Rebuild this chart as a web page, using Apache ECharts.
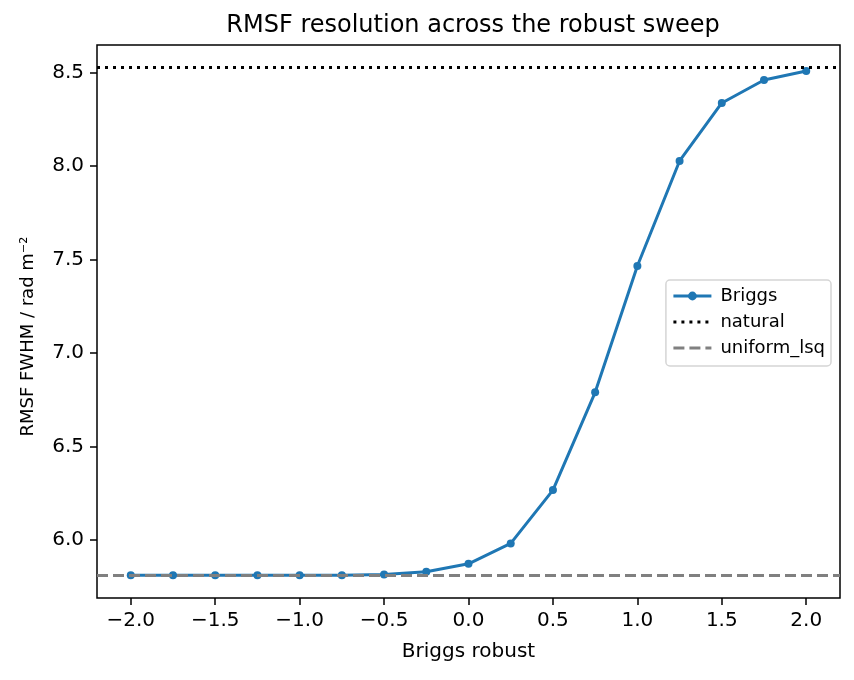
<!DOCTYPE html>
<html>
<head>
<meta charset="utf-8">
<script src="https://cdn.jsdelivr.net/npm/echarts@6/dist/echarts.min.js"></script>
<style>
  html, body { margin: 0; padding: 0; background: #fff; }
  #main { width: 854px; height: 680px; }
</style>
</head>
<body>
<div id="main"></div>
<script>
// briggs robust values and measured RMSF FWHM
const robust = [-2.0, -1.75, -1.5, -1.25, -1.0, -0.75, -0.5, -0.25, 0.0, 0.25, 0.5, 0.75, 1.0, 1.25, 1.5, 1.75, 2.0];
const fwhm = [5.812, 5.812, 5.812, 5.812, 5.812, 5.812, 5.816, 5.83, 5.873, 5.982, 6.267, 6.79, 7.465, 8.027, 8.337, 8.46, 8.508];
const naturalFwhm = 8.53;
const uniformFwhm = 5.812;

const xTicks = [-2.0, -1.5, -1.0, -0.5, 0.0, 0.5, 1.0, 1.5, 2.0];
const yTicks = [6.0, 6.5, 7.0, 7.5, 8.0, 8.5];

const font = "DejaVu Sans";
const fmt = (v) => v.toFixed(1).replace("-", "\u2212");
const hidden = { color: "rgba(0,0,0,0)", borderWidth: 0 };

const chart = echarts.init(document.getElementById("main"), null, { renderer: "canvas" });

const options = {
  backgroundColor: "#fff",
  animation: false,
  title: {
    text: "RMSF resolution across the robust sweep",
    left: 468,
    top: 9,
    textAlign: "center",
    textStyle: { fontFamily: font, fontSize: 24, fontWeight: "normal", color: "#000" },
  },
  grid: {
    left: 97,
    right: 14,
    top: 45,
    bottom: 82,
    show: true,
    borderColor: "#000",
    borderWidth: 1.5,
  },
  legend: {
    right: 23,
    top: 280,
    orient: "vertical",
    itemWidth: 38,
    itemHeight: 11,
    itemGap: 8,
    padding: [7, 6, 9, 6],
    backgroundColor: "rgba(255,255,255,0.8)",
    borderColor: "#d5d5d5",
    borderWidth: 1.5,
    borderRadius: 4,
    lineStyle: { width: 3 },
    textStyle: { fontFamily: font, fontSize: 18, color: "#000", padding: [0, 0, 0, 4] },
    data: ["Briggs", "natural", "uniform_lsq"],
  },
  xAxis: {
    type: "value",
    min: -2.2,
    max: 2.2,
    name: "Briggs robust",
    nameLocation: "middle",
    nameGap: 44,
    nameTextStyle: { fontFamily: font, fontSize: 20, color: "#000" },
    axisLine: { show: false, onZero: false },
    axisTick: { show: true, inside: false, length: 7, lineStyle: { color: "#000", width: 1.5 }, customValues: xTicks },
    axisLabel: {
      fontFamily: font, fontSize: 20, color: "#000", margin: 13,
      customValues: xTicks,
      formatter: fmt,
    },
    splitLine: { show: false },
  },
  yAxis: {
    type: "value",
    min: 5.69,
    max: 8.647,
    name: "RMSF FWHM / rad m\u207B\u00B2",
    nameLocation: "middle",
    nameGap: 60,
    nameTextStyle: { fontFamily: font, fontSize: 18, color: "#000", padding: [0, 30, 0, 0] },
    axisLine: { show: false, onZero: false },
    axisTick: { show: true, inside: false, length: 7, lineStyle: { color: "#000", width: 1.5 }, customValues: yTicks },
    axisLabel: {
      fontFamily: font, fontSize: 20, color: "#000", margin: 13,
      customValues: yTicks,
      formatter: fmt,
    },
    splitLine: { show: false },
  },
  series: [
    {
      name: "Briggs",
      type: "line",
      data: robust.map((r, i) => [r, fwhm[i]]),
      symbol: "circle",
      symbolSize: 8,
      z: 3,
      lineStyle: { color: "#1f77b4", width: 3 },
      itemStyle: { color: "#1f77b4" },
    },
    {
      name: "natural",
      type: "line",
      data: [],
      symbol: "none",
      lineStyle: { color: "#000", width: 3, type: [3, 5] },
      itemStyle: hidden,
      markLine: {
        silent: true,
        symbol: "none",
        label: { show: false },
        lineStyle: { color: "#000", width: 3, type: [3, 5] },
        data: [{ yAxis: naturalFwhm }],
      },
    },
    {
      name: "uniform_lsq",
      type: "line",
      data: [],
      symbol: "none",
      z: 1,
      lineStyle: { color: "#808080", width: 3, type: [11, 5] },
      itemStyle: hidden,
      markLine: {
        silent: true,
        symbol: "none",
        label: { show: false },
        lineStyle: { color: "#808080", width: 3, type: [11, 5] },
        data: [{ yAxis: uniformFwhm }],
      },
    },
  ],
};

chart.setOption(options);
</script>
</body>
</html>
